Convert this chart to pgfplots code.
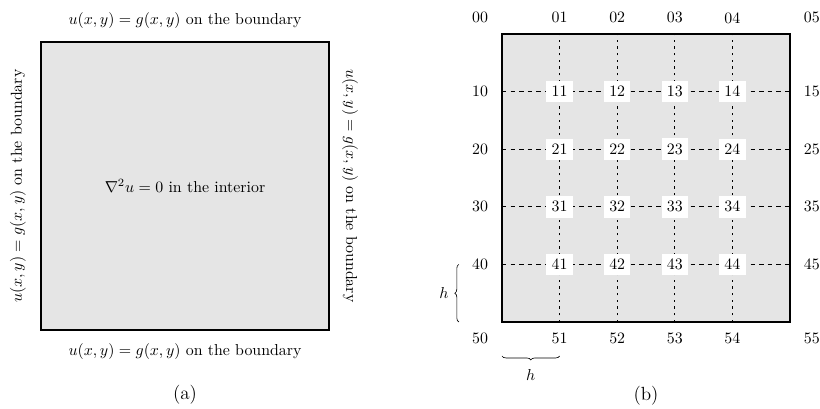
\documentclass[border=0pt]{standalone}
\usepackage{pgfplots}
\pgfplotsset{compat=1.18}
\usetikzlibrary{decorations.pathreplacing}
\begin{document}
\begin{tikzpicture}
\useasboundingbox (0,0) rectangle (516.6pt,257.04pt);
% (a) continuous problem
\begin{axis}[at={(25.83pt,49.14pt)}, anchor=south west,
    width=181.44pt, height=181.44pt, scale only axis, hide axis, clip=false,
    xmin=0, xmax=1, ymin=0, ymax=1]
\addplot[draw=black, line width=1.8pt, fill=black!10, mark=none]
    coordinates {(0,0) (1,0) (1,1) (0,1)} -- cycle;
\node at (axis cs:0.5,1.076) {$u(x,y)=g(x,y)$ on the boundary};
\node at (axis cs:0.5,-0.076) {$u(x,y)=g(x,y)$ on the boundary};
\node[rotate=90] at (axis cs:-0.08,0.5) {$u(x,y)=g(x,y)$ on the boundary};
\node[rotate=-90] at (axis cs:1.073,0.5) {$u(x,y)=g(x,y)$ on the boundary};
\node at (axis cs:0.5,0.5) {$\nabla^2 u = 0$ in the interior};
\node at (axis cs:0.5,-0.226) {\large (a)};
\end{axis}
% (b) discrete grid
\begin{axis}[at={(316.26pt,54.18pt)}, anchor=south west,
    width=181.44pt, height=181.44pt, scale only axis, hide axis, clip=false,
    xmin=0, xmax=5, ymin=0, ymax=5, unbounded coords=jump]
\addplot[draw=black, line width=1.8pt, fill=black!10, mark=none]
    coordinates {(0,0) (5,0) (5,5) (0,5)} -- cycle;
\addplot[black, line width=0.6pt, dash pattern=on 1.4pt off 2.8pt, mark=none]
    coordinates {(1,0) (1,5) (1,nan) (2,0) (2,5) (2,nan) (3,0) (3,5) (3,nan) (4,0) (4,5)};
\addplot[black, line width=0.6pt, dash pattern=on 2.8pt off 2.6pt, mark=none]
    coordinates {(0,1) (5,1) (nan,1) (0,2) (5,2) (nan,2) (0,3) (5,3) (nan,3) (0,4) (5,4)};
% interior nodes
\node[fill=white] at (axis cs:1,4) {11};
\node[fill=white] at (axis cs:2,4) {12};
\node[fill=white] at (axis cs:3,4) {13};
\node[fill=white] at (axis cs:4,4) {14};
\node[fill=white] at (axis cs:1,3) {21};
\node[fill=white] at (axis cs:2,3) {22};
\node[fill=white] at (axis cs:3,3) {23};
\node[fill=white] at (axis cs:4,3) {24};
\node[fill=white] at (axis cs:1,2) {31};
\node[fill=white] at (axis cs:2,2) {32};
\node[fill=white] at (axis cs:3,2) {33};
\node[fill=white] at (axis cs:4,2) {34};
\node[fill=white] at (axis cs:1,1) {41};
\node[fill=white] at (axis cs:2,1) {42};
\node[fill=white] at (axis cs:3,1) {43};
\node[fill=white] at (axis cs:4,1) {44};
% boundary labels
\node at (axis cs:-0.38,5.28) {00};
\node at (axis cs:1,5.28) {01};
\node at (axis cs:2,5.28) {02};
\node at (axis cs:3,5.28) {03};
\node at (axis cs:4,5.28) {04};
\node at (axis cs:5.38,5.28) {05};
\node at (axis cs:-0.38,-0.28) {50};
\node at (axis cs:1,-0.28) {51};
\node at (axis cs:2,-0.28) {52};
\node at (axis cs:3,-0.28) {53};
\node at (axis cs:4,-0.28) {54};
\node at (axis cs:5.38,-0.28) {55};
\node at (axis cs:-0.38,4) {10};
\node at (axis cs:-0.38,3) {20};
\node at (axis cs:-0.38,2) {30};
\node at (axis cs:-0.38,1) {40};
\node at (axis cs:5.38,4) {15};
\node at (axis cs:5.38,3) {25};
\node at (axis cs:5.38,2) {35};
\node at (axis cs:5.38,1) {45};
% spacing braces
\draw[decorate, decoration={brace, amplitude=2.5pt}]
    (axis cs:-0.75,0) -- (axis cs:-0.75,1) node[midway, left=3pt] {$h$};
\draw[decorate, decoration={brace, amplitude=2.5pt}]
    (axis cs:1,-0.59) -- (axis cs:0,-0.59) node[midway, below=5pt] {$h$};
\node at (axis cs:2.5,-1.28) {\large (b)};
\end{axis}
\end{tikzpicture}
\end{document}
